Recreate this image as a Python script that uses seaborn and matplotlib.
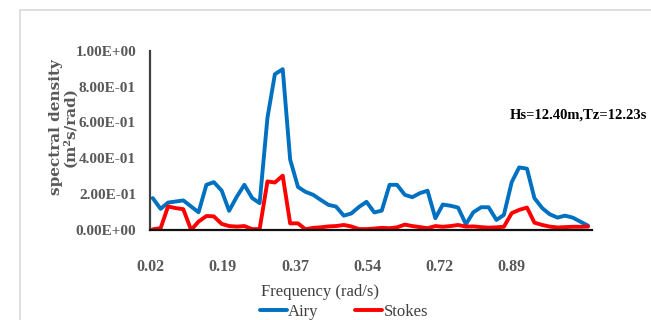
import matplotlib
matplotlib.use("Agg")
import matplotlib.pyplot as plt
import matplotlib.patches as mpatches
import seaborn as sns
import pandas as pd

# ---- data ----
frequency = [0.025, 0.044, 0.062, 0.081, 0.099, 0.118, 0.136, 0.155, 0.173, 0.192,
             0.210, 0.229, 0.247, 0.266, 0.284, 0.303, 0.321, 0.340, 0.358, 0.377,
             0.395, 0.414, 0.432, 0.451, 0.469, 0.488, 0.506, 0.525, 0.543, 0.562,
             0.580, 0.599, 0.617, 0.636, 0.654, 0.673, 0.691, 0.710, 0.728, 0.747,
             0.765, 0.784, 0.802, 0.821, 0.839, 0.858, 0.876, 0.895, 0.913, 0.932,
             0.950, 0.969, 0.987, 1.006, 1.024, 1.043, 1.061, 1.080]
airy = [0.178, 0.118, 0.153, 0.159, 0.165, 0.131, 0.099, 0.252, 0.267, 0.220,
        0.107, 0.187, 0.252, 0.178, 0.150, 0.626, 0.869, 0.897, 0.393, 0.240,
        0.213, 0.196, 0.168, 0.140, 0.131, 0.080, 0.092, 0.129, 0.157, 0.098,
        0.108, 0.252, 0.252, 0.196, 0.183, 0.206, 0.219, 0.066, 0.142, 0.135,
        0.125, 0.032, 0.099, 0.127, 0.127, 0.056, 0.084, 0.267, 0.349, 0.342,
        0.178, 0.122, 0.088, 0.069, 0.080, 0.069, 0.047, 0.024]
stokes = [0.004, 0.010, 0.131, 0.122, 0.116, 0.000, 0.047, 0.078, 0.076, 0.034,
          0.022, 0.019, 0.022, 0.005, 0.005, 0.271, 0.265, 0.303, 0.037, 0.037,
          0.004, 0.012, 0.015, 0.020, 0.022, 0.028, 0.020, 0.005, 0.005, 0.008,
          0.012, 0.010, 0.015, 0.030, 0.022, 0.016, 0.010, 0.022, 0.018, 0.022,
          0.028, 0.019, 0.020, 0.016, 0.013, 0.015, 0.018, 0.094, 0.112, 0.125,
          0.041, 0.028, 0.019, 0.014, 0.016, 0.018, 0.018, 0.019]
series_names = ["Airy", "Stokes"]
x_tick_values = [0.02, 0.195, 0.37, 0.545, 0.72, 0.895]
x_tick_labels = ["0.02", "0.19", "0.37", "0.54", "0.72", "0.89"]
y_tick_values = [0.0, 0.2, 0.4, 0.6, 0.8, 1.0]
y_tick_labels = ["0.00E+00", "2.00E-01", "4.00E-01", "6.00E-01", "8.00E-01", "1.00E+00"]
annotation = "Hs=12.40m,Tz=12.23s"

df = pd.DataFrame({
    "Frequency": frequency * 2,
    "Density": airy + stokes,
    "Series": [series_names[0]] * len(airy) + [series_names[1]] * len(stokes),
})

sns.set_theme(style="white")
plt.rcParams["font.family"] = ["Liberation Serif", "DejaVu Serif"]

fig = plt.figure(figsize=(6.51, 3.20), dpi=100)
ax = fig.add_axes([150 / 651, 1 - 230 / 320, (592 - 150) / 651, (230 - 50.7) / 320])

sns.lineplot(data=df, x="Frequency", y="Density", hue="Series",
             palette={"Airy": "#0070C0", "Stokes": "#FF0000"},
             linewidth=2.8, ax=ax, legend=False, sort=False)

ax.set_xlim(0.0183, 1.0896)
ax.set_ylim(0, 1.0)
ax.set_xticks(x_tick_values)
ax.set_xticklabels(x_tick_labels, fontsize=11.5, fontweight="bold", color="#595959")
ax.set_yticks(y_tick_values)
ax.set_yticklabels(y_tick_labels, fontsize=11, fontweight="bold", color="#595959")
ax.tick_params(axis="x", length=0, pad=21)
ax.tick_params(axis="y", length=0, pad=10)
ax.set_xlabel("")
ax.set_ylabel("")
for s in ["top", "right"]:
    ax.spines[s].set_visible(False)
ax.spines["left"].set_color("#404040")
ax.spines["left"].set_linewidth(1.6)
ax.spines["bottom"].set_color("#111111")
ax.spines["bottom"].set_linewidth(1.6)
ax.grid(False)

# chart area border
fig.patches.append(mpatches.Rectangle((20 / 651, -0.2), 1.2, 1 - 9.5 / 320 + 0.2,
                                      transform=fig.transFigure, fill=False,
                                      edgecolor="#D9D9D9", linewidth=1.2))

fig.text(63 / 651, 1 - 127 / 320, "spectral density\n(m²s/rad)", rotation=90,
         ha="center", va="center", multialignment="center",
         fontsize=11, fontweight="bold", color="#595959",
         family=["DejaVu Serif"], linespacing=1.0)
fig.text(320 / 651, 1 - 291.5 / 320, "Frequency (rad/s)", ha="center", va="center",
         fontsize=12, color="#404040")
fig.text(578 / 651, 1 - 115 / 320, annotation, ha="center", va="center",
         fontsize=10.5, fontweight="bold", color="#000000")

handles = [plt.Line2D([], [], color="#0070C0", linewidth=2.8),
           plt.Line2D([], [], color="#FF0000", linewidth=2.8)]
leg = fig.legend(handles, series_names, loc="center", bbox_to_anchor=(344 / 651, 1 - 312 / 320),
                 ncol=2, frameon=False, fontsize=12, handlelength=1.6,
                 handletextpad=0.1, columnspacing=2.2, borderpad=0, borderaxespad=0)
for t in leg.get_texts():
    t.set_color("#404040")

fig.savefig("out.png", dpi=100)
